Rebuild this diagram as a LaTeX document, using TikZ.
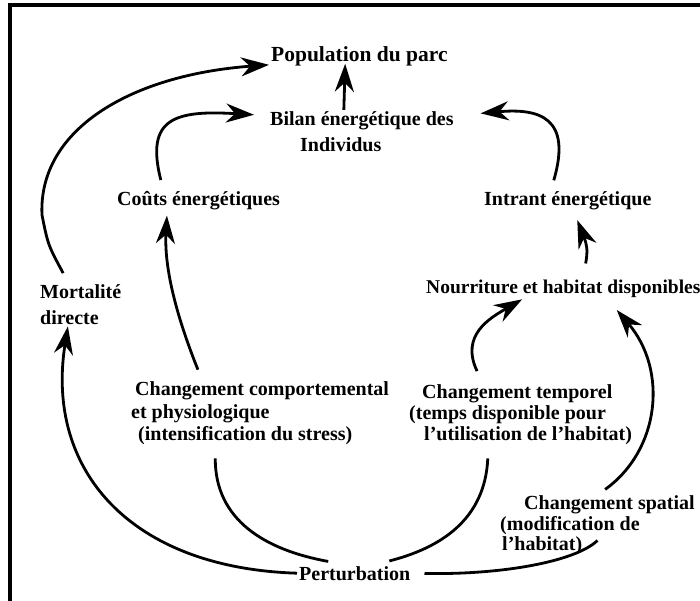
\documentclass[tikz,border=0pt]{standalone}
\usepackage{fontspec}
\setmainfont{Liberation Serif}
\usetikzlibrary{arrows.meta}
\tikzset{
  lab/.style={font=\bfseries\fontsize{20}{21}\selectfont, align=left,
              inner sep=2pt, anchor=base west},
  link/.style={-{Stealth[length=28pt,width=19pt,inset=9pt]}, line width=2.8pt},
  plain/.style={line width=2.8pt},
  frame/.style={line width=4pt}
}

\begin{document}
\begin{tikzpicture}[x=1pt,y=-1pt]
  \useasboundingbox (0,0) rectangle (700,601);
  \draw[frame] (10,620) -- (10,5) -- (720,5);

  % base of a node with several lines = baseline of its last line
  \node[lab, font=\bfseries\fontsize{21.5}{22}\selectfont] (pop) at (269,62) {Population du parc};
  \node[lab] (bilan) at (268,152) {Bilan énergétique des\\[5pt]\hspace*{30pt}Individus};
  \node[lab] (couts) at (115,206) {Coûts énergétiques};
  \node[lab] (intrant) at (482,206) {Intrant énergétique};
  \node[lab] (mort) at (38,324) {Mortalité\\[5pt]directe};
  \node[lab, font=\bfseries\fontsize{19.5}{21}\selectfont] (nour) at (424,293) {Nourriture et habitat disponibles};
  \node[lab] (comp) at (129,440) {\hspace*{4pt}Changement comportemental\\[2pt]et physiologique\\[1pt]\hspace*{7pt}(intensification du stress)};
  \node[lab] (temp) at (407,440) {\hspace*{13pt}Changement temporel\\[0pt](temps disponible pour\\[0pt]\hspace*{15pt}l'utilisation de l'habitat)};
  \node[lab] (spat) at (498,550) {\hspace*{24pt}Changement spatial\\(modification de\\[-1pt]\hspace*{2pt}l'habitat)};
  \node[lab] (pert) at (297,580) {Perturbation};

  % arrows into the top
  \draw[link] (bilan.129) -- ([yshift=5pt]pop.220);
  \draw[link, shorten <=10pt, shorten >=14pt] (couts.162) .. controls (145,118) and (175,110) .. (bilan.170);
  \draw[link, shorten <=10pt, shorten >=25pt] (intrant.146) .. controls (572,118) and (540,108) .. (bilan.10);
  \draw[link, shorten <=10pt] (mort.120) .. controls (48,245) .. (42,215) .. controls (38,130) and (130,75) .. ([yshift=-8pt]pop.west);

  % middle
  \draw[link, shorten <=14pt, shorten >=8pt] (nour.29) .. controls (588,250) and (587,245) .. (intrant.-60);
  \draw[link, shorten <=10pt, shorten >=3pt] (comp.150) .. controls (178,320) and (164,270) .. (couts.200);
  \draw[link, shorten <=12pt] (temp.140) .. controls (460,335) and (490,318) .. (nour.195);
  \draw[link, shorten <=6pt, shorten >=14pt] (spat.85) .. controls (660,450) and (668,370) .. (nour.-14);

  % from the disturbance
  \draw[link] (pert.west) .. controls (130,568) and (45,470) .. (mort.240);
  \draw[plain, shorten <=12pt, shorten >=14pt] (comp.217) .. controls (215,520) and (265,550) .. (pert.144);
  \draw[plain, shorten <=12pt, shorten >=12pt] (temp.225) .. controls (485,520) and (440,548) .. (pert.22);
  \draw[plain, shorten <=12pt] (pert.east) .. controls (500,575) and (575,562) .. ([yshift=16pt]spat.south);
\end{tikzpicture}
\end{document}
